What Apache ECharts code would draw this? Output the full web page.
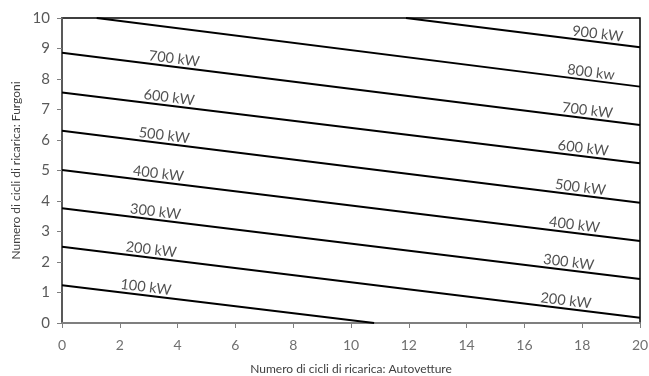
<!DOCTYPE html>
<html><head><meta charset="utf-8">
<script src="https://cdn.jsdelivr.net/npm/echarts@6/dist/echarts.min.js"></script>
<style>html,body{margin:0;padding:0;background:#fff}#c{width:649px;height:376px}</style>
</head><body><div id="c"></div>
<script>
// Lines of constant power: [xStart, yStart, xEnd, yEnd]
const powers = [100, 200, 300, 400, 500, 600, 700, 800, 900];
const lineStartX = [0, 0, 0, 0, 0, 0, 0, 1.2, 11.9];
const lineStartY = [1.24, 2.50, 3.76, 5.02, 6.30, 7.56, 8.86, 10, 10];
const lineEndX   = [10.8, 20, 20, 20, 20, 20, 20, 20, 20];
const lineEndY   = [0, 0.17, 1.44, 2.69, 3.94, 5.24, 6.49, 7.75, 9.04];
// label texts
const leftLabels  = ['100 kW','200 kW','300 kW','400 kW','500 kW','600 kW','700 kW', null, null];
const rightLabels = [null,'200 kW','300 kW','400 kW','500 kW','600 kW','700 kW','800 kw','900 kW'];
const xTicks = [0,2,4,6,8,10,12,14,16,18,20];
const yTicks = [0,1,2,3,4,5,6,7,8,9,10];

// label anchor x positions (layout, not data)
const leftLabelX  = [2.87, 3.05, 3.2, 3.3, 3.5, 3.67, 3.85, null, null];
const rightLabelX = [null, 17.4, 17.5, 17.7, 17.9, 18.0, 18.15, 18.27, 18.5];

function yAt(i, x){
  const t = (x - lineStartX[i]) / (lineEndX[i] - lineStartX[i]);
  return lineStartY[i] + t * (lineEndY[i] - lineStartY[i]);
}

const series = [];
powers.forEach((p, i) => {
  series.push({
    type: 'line', name: p + ' kW', silent: true, symbol: 'none',
    lineStyle: {color: '#000', width: 2},
    data: [[lineStartX[i], lineStartY[i]], [lineEndX[i], lineEndY[i]]]
  });
});
const labelData = [];
powers.forEach((p, i) => {
  if (leftLabels[i]) labelData.push([leftLabelX[i], yAt(i, leftLabelX[i]), leftLabels[i]]);
  if (rightLabels[i]) labelData.push([rightLabelX[i], yAt(i, rightLabelX[i]), rightLabels[i]]);
});
series.push({
  type: 'scatter', silent: true, symbolSize: 0, data: labelData,
  label: {
    show: true, position: 'inside', formatter: p => p.value[2],
    rotate: -7, offset: [0, -8], color: '#262626',
    fontFamily: 'Lato', fontSize: 14.5
  }
});

const chart = echarts.init(document.getElementById('c'), null, {renderer: 'canvas'});
chart.setOption({
  animation: false,
  backgroundColor: '#fff',
  grid: {left: 62, right: 9, top: 18, bottom: 53, show: true, borderColor: '#000', borderWidth: 1.5,
         containLabel: false, outerBoundsMode: 'none'},
  xAxis: {
    type: 'value', min: 0, max: 20, interval: 2,
    name: 'Numero di cicli di ricarica: Autovetture', nameLocation: 'middle', nameGap: 40,
    nameTextStyle: {color: '#404040', fontFamily: 'Lato', fontSize: 12},
    axisLine: {show: true, lineStyle: {color: '#7f7f7f', width: 2}},
    axisTick: {show: true, length: 5, lineStyle: {color: '#7f7f7f'}},
    axisLabel: {color: '#707070', fontFamily: 'Lato', fontSize: 14, margin: 15},
    splitLine: {show: false}
  },
  yAxis: {
    type: 'value', min: 0, max: 10, interval: 1,
    name: 'Numero di cicli di ricarica: Furgoni', nameLocation: 'middle', nameGap: 38,
    nameTextStyle: {color: '#404040', fontFamily: 'Lato', fontSize: 12},
    axisLine: {show: true, lineStyle: {color: '#595959', width: 2}},
    axisTick: {show: true, length: 5, lineStyle: {color: '#7f7f7f'}},
    axisLabel: {color: '#595959', fontFamily: 'Lato', fontSize: 15, margin: 12},
    splitLine: {show: false}
  },
  series: series
});
</script>
</body></html>
